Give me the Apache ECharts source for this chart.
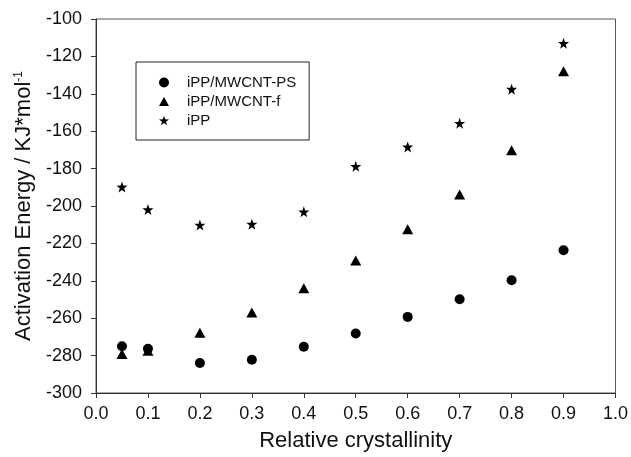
<!DOCTYPE html>
<html>
<head>
<meta charset="utf-8">
<script src="https://cdn.jsdelivr.net/npm/echarts@6/dist/echarts.min.js"></script>
<style>
html,body{margin:0;padding:0;background:#fff;}
#chart{width:631px;height:457px;}
</style>
</head>
<body>
<div id="chart"></div>
<script>
var xValues = [0.05, 0.1, 0.2, 0.3, 0.4, 0.5, 0.6, 0.7, 0.8, 0.9];
var psValues = [-275, -276.3, -284, -282.2, -275.3, -268.2, -259.3, -249.9, -239.7, -223.7];
var fValues = [-279.2, -277.4, -267.8, -257, -244, -229.2, -212.4, -193.9, -170.2, -127.9];
var ippValues = [-189.8, -201.9, -210.2, -209.7, -203.1, -178.8, -168.4, -155.8, -137.5, -113];
var seriesNames = ['iPP/MWCNT-PS', 'iPP/MWCNT-f', 'iPP'];

var starPath = 'path://M0,-10 L2.35,-3.24 L9.51,-3.09 L3.80,1.24 L5.88,8.09 L0,4 L-5.88,8.09 L-3.80,1.24 L-9.51,-3.09 L-2.35,-3.24 Z';
var triPath = 'path://M0,0 L5.5,10 L-5.5,10 Z';

function pairs(xs, ys) {
  return xs.map(function (x, i) { return [x, ys[i]]; });
}

var chart = echarts.init(document.getElementById('chart'), null, {renderer: 'canvas'});
var fontFam = '"Liberation Sans", Arial, sans-serif';
chart.setOption({
  animation: false,
  backgroundColor: '#fff',
  textStyle: {fontFamily: fontFam},
  grid: {left: 96, right: 15, top: 19, bottom: 63, show: true, borderColor: '#555', borderWidth: 1, backgroundColor: 'transparent'},
  legend: {
    orient: 'vertical',
    left: 136,
    top: 62,
    padding: [13, 13, 12, 23],
    itemWidth: 10,
    itemHeight: 10,
    itemGap: 4,
    borderColor: '#222',
    borderWidth: 1,
    data: [
      {name: seriesNames[0], icon: 'circle'},
      {name: seriesNames[1], icon: triPath},
      {name: seriesNames[2], icon: starPath}
    ],
    textStyle: {fontSize: 15, color: '#111', fontFamily: fontFam, lineHeight: 14, padding: [0, 0, 0, 13]}
  },
  xAxis: {
    type: 'value',
    min: 0, max: 1, interval: 0.1,
    name: 'Relative crystallinity',
    nameLocation: 'middle',
    nameGap: 37,
    nameTextStyle: {fontSize: 22, color: '#111', fontFamily: fontFam},
    axisLine: {show: true, lineStyle: {color: '#333', width: 1}},
    axisTick: {show: true, inside: false, length: 5, lineStyle: {color: '#333'}},
    axisLabel: {fontSize: 18, color: '#111', margin: 12, fontFamily: fontFam,
      formatter: function (v) { return v.toFixed(1); }},
    splitLine: {show: false}
  },
  yAxis: {
    type: 'value',
    min: -300, max: -100, interval: 20,
    name: 'Activation Energy / KJ*mol{sup|-1}',
    nameLocation: 'middle',
    nameGap: 61,
    nameRotate: 90,
    nameTextStyle: {fontSize: 22, color: '#111', fontFamily: fontFam,
      rich: {sup: {fontSize: 12, verticalAlign: 'top', color: '#111', fontFamily: fontFam, padding: [0, 0, 10, 0]}}},
    axisLine: {show: true, lineStyle: {color: '#333', width: 1}},
    axisTick: {show: true, inside: false, length: 5, lineStyle: {color: '#333'}},
    axisLabel: {fontSize: 18, color: '#111', margin: 14, fontFamily: fontFam},
    splitLine: {show: false}
  },
  series: [
    {name: seriesNames[0], type: 'scatter', symbol: 'circle', symbolSize: 10,
      itemStyle: {color: '#000', opacity: 1}, data: pairs(xValues, psValues)},
    {name: seriesNames[1], type: 'scatter', symbol: 'triangle', symbolSize: [11, 10],
      itemStyle: {color: '#000', opacity: 1}, data: pairs(xValues, fValues)},
    {name: seriesNames[2], type: 'scatter', symbol: starPath, symbolSize: 11,
      itemStyle: {color: '#000', opacity: 1}, data: pairs(xValues, ippValues)}
  ]
});
</script>
</body>
</html>
